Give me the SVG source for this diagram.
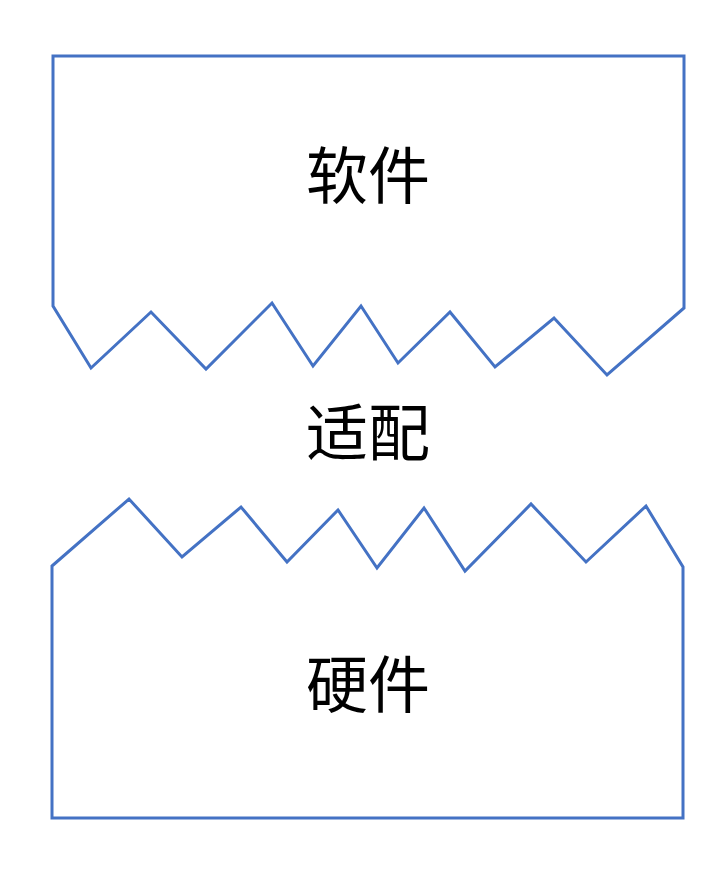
<svg xmlns="http://www.w3.org/2000/svg" width="727" height="876" viewBox="0 0 727 876">
<style>
.shape{fill:none;stroke:#4472C4;stroke-width:3;stroke-linejoin:miter}
.lbl{font-family:"Noto Sans CJK SC","Liberation Sans",sans-serif;font-size:62px;fill:#000;text-anchor:middle}
</style>
<rect width="727" height="876" fill="#fff"/>
<g id="software">
<path class="shape" d="M53,306 L53,56 L684,56 L684,308 L607,375 L554,318 L495,367 L450,312 L398,363 L361,306 L313,366 L272,303 L206,369 L151,312 L91,368 Z"/>
<text class="lbl" x="368" y="199">软件</text>
</g>
<g id="adapt">
<text class="lbl" x="368" y="456">适配</text>
</g>
<g id="hardware">
<path class="shape" d="M52,566 L129,499 L182,557 L241,507 L287,562 L338,510 L377,568 L424,508 L465,571 L531,504 L586,562 L646,506 L683,567 L683,818 L52,818 Z"/>
<text class="lbl" x="368" y="708">硬件</text>
</g>
</svg>
